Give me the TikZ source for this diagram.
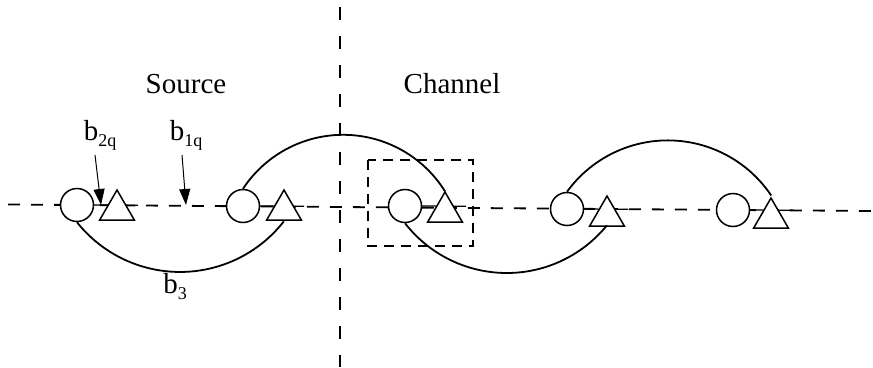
\documentclass[tikz,border=0pt]{standalone}
\usepackage{fontspec}
\setmainfont{Liberation Serif}
\usetikzlibrary{shapes.geometric,arrows.meta}
\newcommand{\subsc}[1]{{\fontsize{18}{20}\selectfont\raisebox{-6pt}{#1}}}
\begin{document}
\begin{tikzpicture}[x=1pt,y=-1pt,
  every node/.style={font=\fontsize{29}{34}\selectfont},
  ring/.style={circle,draw,fill=white,line width=1.5pt,minimum size=33pt,inner sep=0pt},
  tri/.style={regular polygon,regular polygon sides=3,draw,fill=white,line width=1.5pt,minimum size=40pt,inner sep=0pt},
  wire/.style={line width=1.8pt},
  link/.style={line width=1.2pt},
  hdash/.style={line width=1.8pt,dash pattern=on 12pt off 11pt},
  vdash/.style={line width=1.8pt,dash pattern=on 13pt off 16pt},
  boxdash/.style={line width=1.6pt,dash pattern=on 10pt off 7pt},
  pointer/.style={line width=1pt,-{Triangle[width=11pt,length=16pt]}},
  lbl/.style={anchor=base,inner sep=0pt}]
\useasboundingbox (0,0) rectangle (873,367);
% axes
\coordinate (hl) at (8,204.5);
\coordinate (hr) at (873,211);
\coordinate (vt) at (340,7);
\coordinate (vb) at (340,367);
\draw[hdash] (hl) -- (hr);
\draw[vdash] (vt) -- (vb);
% dashed box
\coordinate (bx1) at (368,160);
\coordinate (bx2) at (473,246);
\draw[boxdash] (bx1) rectangle (bx2);
% links between circle and triangle
\foreach \cx/\cy in {77/205,243/206,405/206,567/209,733/210}{
  \draw[link] (\cx+16,\cy) -- ++(45,0.3);
}
% circles and triangles
\node[ring] (c1) at (77,205) {};
\node[tri]  (t1) at (117,210) {};
\node[ring] (c2) at (243,206) {};
\node[tri]  (t2) at (284,210) {};
\node[ring] (c3) at (405,206) {};
\node[tri]  (t3) at (445,212) {};
\node[ring] (c4) at (567,209) {};
\node[tri]  (t4) at (607,216) {};
\node[ring] (c5) at (733,210) {};
\node[tri]  (t5) at (771,218) {};
% arcs (circular)
\draw[wire] (c1.south) arc[start angle=141.5, end angle=38, radius=131.7];
\draw[wire] (c2.north) arc[start angle=-146.6, end angle=-31.9, radius=120];
\draw[wire] (c3.south) arc[start angle=142.1, end angle=39.1, radius=129];
\draw[wire] (c4.north) arc[start angle=-144, end angle=-33.9, radius=124.6];
% labels
\node[lbl] (src) at (186,93) {Source};
\node[lbl] (chn) at (452,93) {Channel};
\node[lbl] (b2q) at (100,140) {b\subsc{2q}};
\node[lbl] (b1q) at (186,140) {b\subsc{1q}};
\node[lbl] (b3) at (175,293) {b\subsc{3}};
% pointers
\coordinate (s2) at (95,155);
\coordinate (s1) at (182,155);
\coordinate (p2) at (101,205);
\coordinate (p1) at (186,205);
\draw[pointer] (s2) -- (p2);
\draw[pointer] (s1) -- (p1);
\end{tikzpicture}
\end{document}
